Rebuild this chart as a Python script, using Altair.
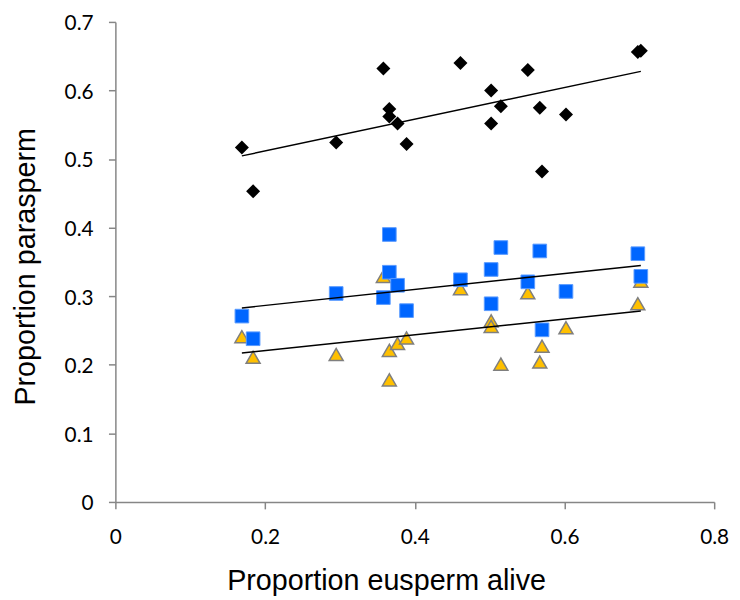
import altair as alt
import pandas as pd

# Proportion of eusperm alive (x) shared by the three series
eusperm = [0.169, 0.184, 0.295, 0.358, 0.366, 0.366, 0.377, 0.389, 0.461,
           0.502, 0.502, 0.515, 0.551, 0.567, 0.570, 0.602, 0.698, 0.702]
series_diamond = [0.517, 0.453, 0.524, 0.632, 0.573, 0.562, 0.552, 0.522, 0.640,
                  0.600, 0.552, 0.577, 0.630, 0.575, 0.482, 0.565, 0.656, 0.658]
series_square = [0.271, 0.238, 0.304, 0.298, 0.390, 0.335, 0.316, 0.279, 0.324,
                 0.339, 0.289, 0.371, 0.321, 0.366, 0.251, 0.307, 0.362, 0.329]
series_triangle = [0.241, 0.211, 0.215, 0.329, 0.221, 0.178, 0.231, 0.239, 0.311,
                   0.264, 0.256, 0.201, 0.305, 0.204, 0.227, 0.254, 0.289, 0.322]

x_ticks = [0, 0.2, 0.4, 0.6, 0.8]
y_ticks = [0, 0.1, 0.2, 0.3, 0.4, 0.5, 0.6, 0.7]

rows = []
for name, ys in [("triangle", series_triangle), ("square", series_square),
                 ("diamond", series_diamond)]:
    for xv, yv in zip(eusperm, ys):
        rows.append({"x": xv, "y": yv, "series": name})
df = pd.DataFrame(rows)

AXIS_GRAY = "#868686"

x_enc = alt.X("x:Q", scale=alt.Scale(domain=[0, 0.8], nice=False, zero=False),
              axis=alt.Axis(values=x_ticks, format="~g", grid=False,
                            title="Proportion eusperm alive",
                            domainColor=AXIS_GRAY, domainWidth=1.5,
                            tickColor=AXIS_GRAY, tickWidth=1.5, tickSize=7,
                            labelFont="Lato", labelFontSize=21, labelColor="#000000",
                            labelPadding=17.5, labelFlush=False,
                            titleFont="Liberation Sans", titleFontSize=29,
                            titleFontWeight="normal", titleColor="#000000",
                            titleX=273.5, titleY=88, titleBaseline="alphabetic",
                            titleAlign="center"))
y_enc = alt.Y("y:Q", scale=alt.Scale(domain=[0, 0.7], nice=False, zero=False),
              axis=alt.Axis(values=y_ticks, format="~g", grid=False,
                            title="Proportion parasperm",
                            domainColor=AXIS_GRAY, domainWidth=1.5,
                            tickColor=AXIS_GRAY, tickWidth=1.5, tickSize=7,
                            labelFont="Lato", labelFontSize=21, labelColor="#000000",
                            labelPadding=15.5, labelOffset=2, labelFlush=False,
                            titleFont="Liberation Sans", titleFontSize=29,
                            titleFontWeight="normal", titleColor="#000000",
                            titleX=-90.5, titleY=247, titleAngle=270,
                            titleBaseline="middle", titleAlign="center"))

base = alt.Chart(df)

tri = base.transform_filter(alt.datum.series == "triangle").mark_point(
    shape="triangle-up", filled=True, fill="#ffc000", stroke="#7f7f7f",
    strokeWidth=1.5, size=200, opacity=1).encode(x=x_enc, y=y_enc)

sq = base.transform_filter(alt.datum.series == "square").mark_point(
    shape="square", filled=True, fill="#0066ff", stroke="#5a9bff",
    strokeWidth=1, size=190, opacity=1).encode(x=x_enc, y=y_enc)

dia = base.transform_filter(alt.datum.series == "diamond").mark_point(
    shape="diamond", filled=True, fill="#000000", size=200,
    opacity=1).encode(x=x_enc, y=y_enc)

trend = base.transform_regression("x", "y", groupby=["series"]).mark_line(
    color="#000000", strokeWidth=1.5).encode(x=x_enc, y=y_enc, detail="series:N")

chart = alt.layer(tri, sq, dia, trend).properties(
    width=605, height=485,
    autosize=alt.AutoSizeParams(type="none"),
    padding={"left": 108.5, "top": 11, "right": 18, "bottom": 96},
).configure_view(stroke=None)

chart.save("out.html", embed_options={"renderer": "svg", "actions": False})
